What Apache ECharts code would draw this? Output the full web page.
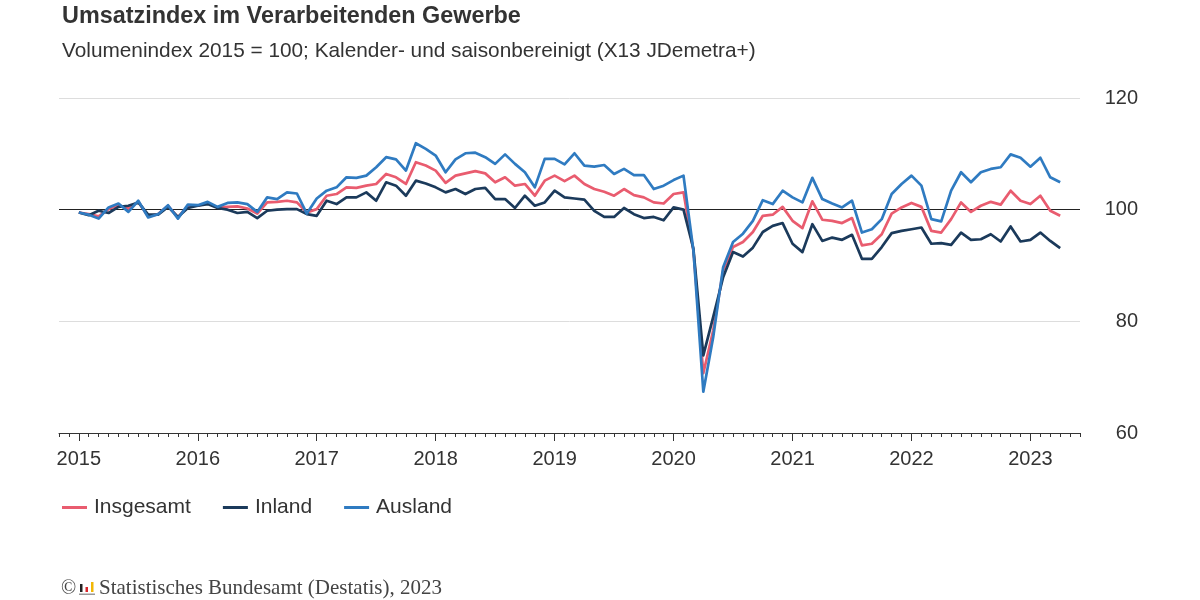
<!DOCTYPE html>
<html>
<head>
<meta charset="utf-8">
<script src="https://cdn.jsdelivr.net/npm/echarts@6/dist/echarts.min.js"></script>
<style>
  html, body { margin: 0; padding: 0; background: #fff; }
  #chart { width: 1200px; height: 600px; }
</style>
</head>
<body>
<div id="chart"></div>
<script>
// Monatswerte Jan 2015 - Apr 2023 (Index 0 = Jan 2015)
var yearLabels = ['2015', '2016', '2017', '2018', '2019', '2020', '2021', '2022', '2023'];
var yearTicks = [0, 12, 24, 36, 48, 60, 72, 84, 96];

var insgesamt = [
  99.5, 99.2, 98.8, 100.1, 100.8, 100.2, 101.4, 98.8, 99.2, 100.7, 98.6, 100.7,
  100.7, 101.2, 100.4, 100.5, 100.6, 100.2, 99.3, 101.3, 101.4, 101.6, 101.3, 99.5,
  100.1, 102.5, 102.8, 104.0, 103.9, 104.3, 104.6, 106.4, 105.8, 104.6, 108.5, 107.9,
  107.0, 104.8, 106.1, 106.5, 106.9, 106.5, 104.9, 105.8, 104.3, 104.6, 102.5, 105.2,
  106.1, 105.1, 106.1, 104.6, 103.7, 103.2, 102.5, 103.7, 102.6, 102.2, 101.3, 101.1,
  102.8, 103.1, 92.7, 70.7, 78.4, 89.1, 93.3, 94.2, 96.0, 98.9, 99.1, 100.5,
  98.0, 96.7, 101.5, 98.2, 98.0, 97.6, 98.5, 93.6, 93.9, 95.6, 99.3, 100.4,
  101.2, 100.5, 96.2, 95.9, 98.3, 101.3, 99.6, 100.7, 101.4, 100.9, 103.4, 101.6,
  101.0, 102.5, 99.8, 98.9
];
var inland = [
  99.5, 99.0, 99.8, 99.4, 100.5, 100.7, 101.3, 99.1, 99.1, 100.5, 98.7, 100.3,
  100.7, 101.0, 100.3, 100.0, 99.4, 99.6, 98.5, 99.8, 100.0, 100.1, 100.1, 99.2,
  98.9, 101.6, 101.0, 102.2, 102.2, 103.1, 101.6, 104.9, 104.3, 102.5, 105.2, 104.7,
  104.0, 103.1, 103.7, 102.8, 103.7, 103.9, 101.9, 101.9, 100.3, 102.5, 100.7, 101.3,
  103.4, 102.2, 102.0, 101.8, 99.8, 98.7, 98.7, 100.3, 99.2, 98.5, 98.7, 98.1,
  100.4, 100.0, 93.0, 73.9, 80.8, 87.9, 92.4, 91.6, 93.2, 96.0, 97.1, 97.6,
  93.9, 92.4, 97.4, 94.4, 95.0, 94.6, 95.5, 91.2, 91.2, 93.3, 95.8, 96.2,
  96.5, 96.8, 93.9, 94.0, 93.7, 95.9, 94.6, 94.7, 95.6, 94.3, 97.0, 94.3,
  94.6, 95.9, 94.4, 93.1
];
var ausland = [
  99.5, 99.1, 98.4, 100.4, 101.1, 99.6, 101.6, 98.6, 99.2, 100.8, 98.4, 100.9,
  100.8, 101.4, 100.5, 101.2, 101.3, 101.0, 99.6, 102.2, 101.9, 103.1, 102.9, 99.3,
  102.0, 103.4, 104.0, 105.8, 105.7, 106.1, 107.6, 109.4, 109.0, 107.0, 111.9, 110.9,
  109.7, 106.7, 109.0, 110.1, 110.2, 109.4, 108.2, 109.9, 108.2, 106.7, 104.0, 109.1,
  109.1, 108.1, 110.1, 107.9, 107.7, 108.0, 106.4, 107.3, 106.2, 106.2, 103.7, 104.3,
  105.3, 106.1, 92.7, 67.4, 77.2, 89.7, 94.2, 95.7, 98.0, 101.7, 101.0, 103.4,
  102.2, 101.3, 105.7, 101.9, 101.1, 100.4, 101.6, 95.9, 96.5, 98.3, 102.8, 104.6,
  106.1, 104.3, 98.3, 97.9, 103.4, 106.7, 104.9, 106.7, 107.3, 107.6, 109.9, 109.3,
  107.7, 109.3, 105.8, 104.9
];

var FONT = '"Liberation Sans", Arial, sans-serif';
var chart = echarts.init(document.getElementById('chart'));

function toPoints(arr) {
  return arr.map(function (v, i) { return [i, v]; });
}

var lineSeries = function (name, color, arr, z) {
  return {
    name: name,
    type: 'line',
    data: toPoints(arr),
    showSymbol: false,
    symbol: 'none',
    z: z,
    lineStyle: { color: color, width: 2.7, join: 'round' },
    itemStyle: { color: color }
  };
};

var series = [
  lineSeries('Insgesamt', '#e95c6f', insgesamt, 3),
  lineSeries('Inland', '#1b3a5b', inland, 4),
  lineSeries('Ausland', '#2f7bc1', ausland, 5)
];
// Referenzlinie bei 100
series[0].markLine = {
  silent: true,
  symbol: 'none',
  label: { show: false },
  lineStyle: { color: '#222', width: 1, type: 'solid' },
  data: [{ yAxis: 100 }],
  z: 2
};

chart.setOption({
  animation: false,
  backgroundColor: '#fff',
  legend: {
    left: 62, top: 497, padding: 0,
    itemWidth: 25, itemHeight: 3, itemGap: 32,
    icon: 'rect',
    textStyle: { fontFamily: FONT, fontSize: 21, color: '#333', padding: [0, 0, 0, 2] },
    data: ['Insgesamt', 'Inland', 'Ausland']
  },
  grid: { left: 59, right: 120, top: 98, bottom: 167, containLabel: false },
  xAxis: [{
    type: 'value',
    min: -2, max: 101, interval: 1,
    axisLine: { show: true, lineStyle: { color: '#333', width: 1 } },
    axisTick: { show: true, length: 4, lineStyle: { color: '#333' } },
    axisLabel: { show: false },
    splitLine: { show: false }
  }, {
    type: 'value',
    position: 'bottom',
    min: -2, max: 101,
    axisLine: { show: false },
    axisTick: { show: true, length: 8, customValues: yearTicks, lineStyle: { color: '#333' } },
    axisLabel: {
      show: true,
      customValues: yearTicks,
      margin: 16,
      fontFamily: FONT, fontSize: 20, color: '#333',
      formatter: function (v) { return yearLabels[yearTicks.indexOf(v)] || ''; }
    },
    splitLine: { show: false }
  }],
  yAxis: {
    type: 'value',
    position: 'right',
    min: 60, max: 120, interval: 20,
    axisLine: { show: false },
    axisTick: { show: false },
    axisLabel: { margin: 58, align: 'right', padding: [4, 0, 0, 0], fontFamily: FONT, fontSize: 20, color: '#333' },
    splitLine: { show: true, lineStyle: { color: '#dddddd', width: 1 } }
  },
  series: series,
  graphic: [
    { type: 'text', x: 62, y: 5,
      style: { text: 'Umsatzindex im Verarbeitenden Gewerbe', font: 'bold 23.4px ' + FONT, fill: '#333' } },
    { type: 'text', x: 62, y: 41,
      style: { text: 'Volumenindex 2015 = 100; Kalender- und saisonbereinigt (X13 JDemetra+)', font: '20.8px ' + FONT, fill: '#333' } },
    { type: 'text', x: 61, y: 579, style: { text: '\u00a9', font: '20px "Liberation Serif", serif', fill: '#444' } },
    { type: 'rect', shape: { x: 80, y: 584, width: 2.5, height: 8 }, style: { fill: '#222' } },
    { type: 'rect', shape: { x: 85.5, y: 587, width: 2.5, height: 5 }, style: { fill: '#d9252a' } },
    { type: 'rect', shape: { x: 91, y: 582, width: 2.5, height: 10 }, style: { fill: '#f2b705' } },
    { type: 'rect', shape: { x: 79, y: 593.5, width: 16, height: 1.5 }, style: { fill: '#999' } },
    { type: 'text', x: 99, y: 578, style: { text: 'Statistisches Bundesamt (Destatis), 2023', font: '21px "Liberation Serif", serif', fill: '#444' } }
  ]
});
</script>
</body>
</html>
